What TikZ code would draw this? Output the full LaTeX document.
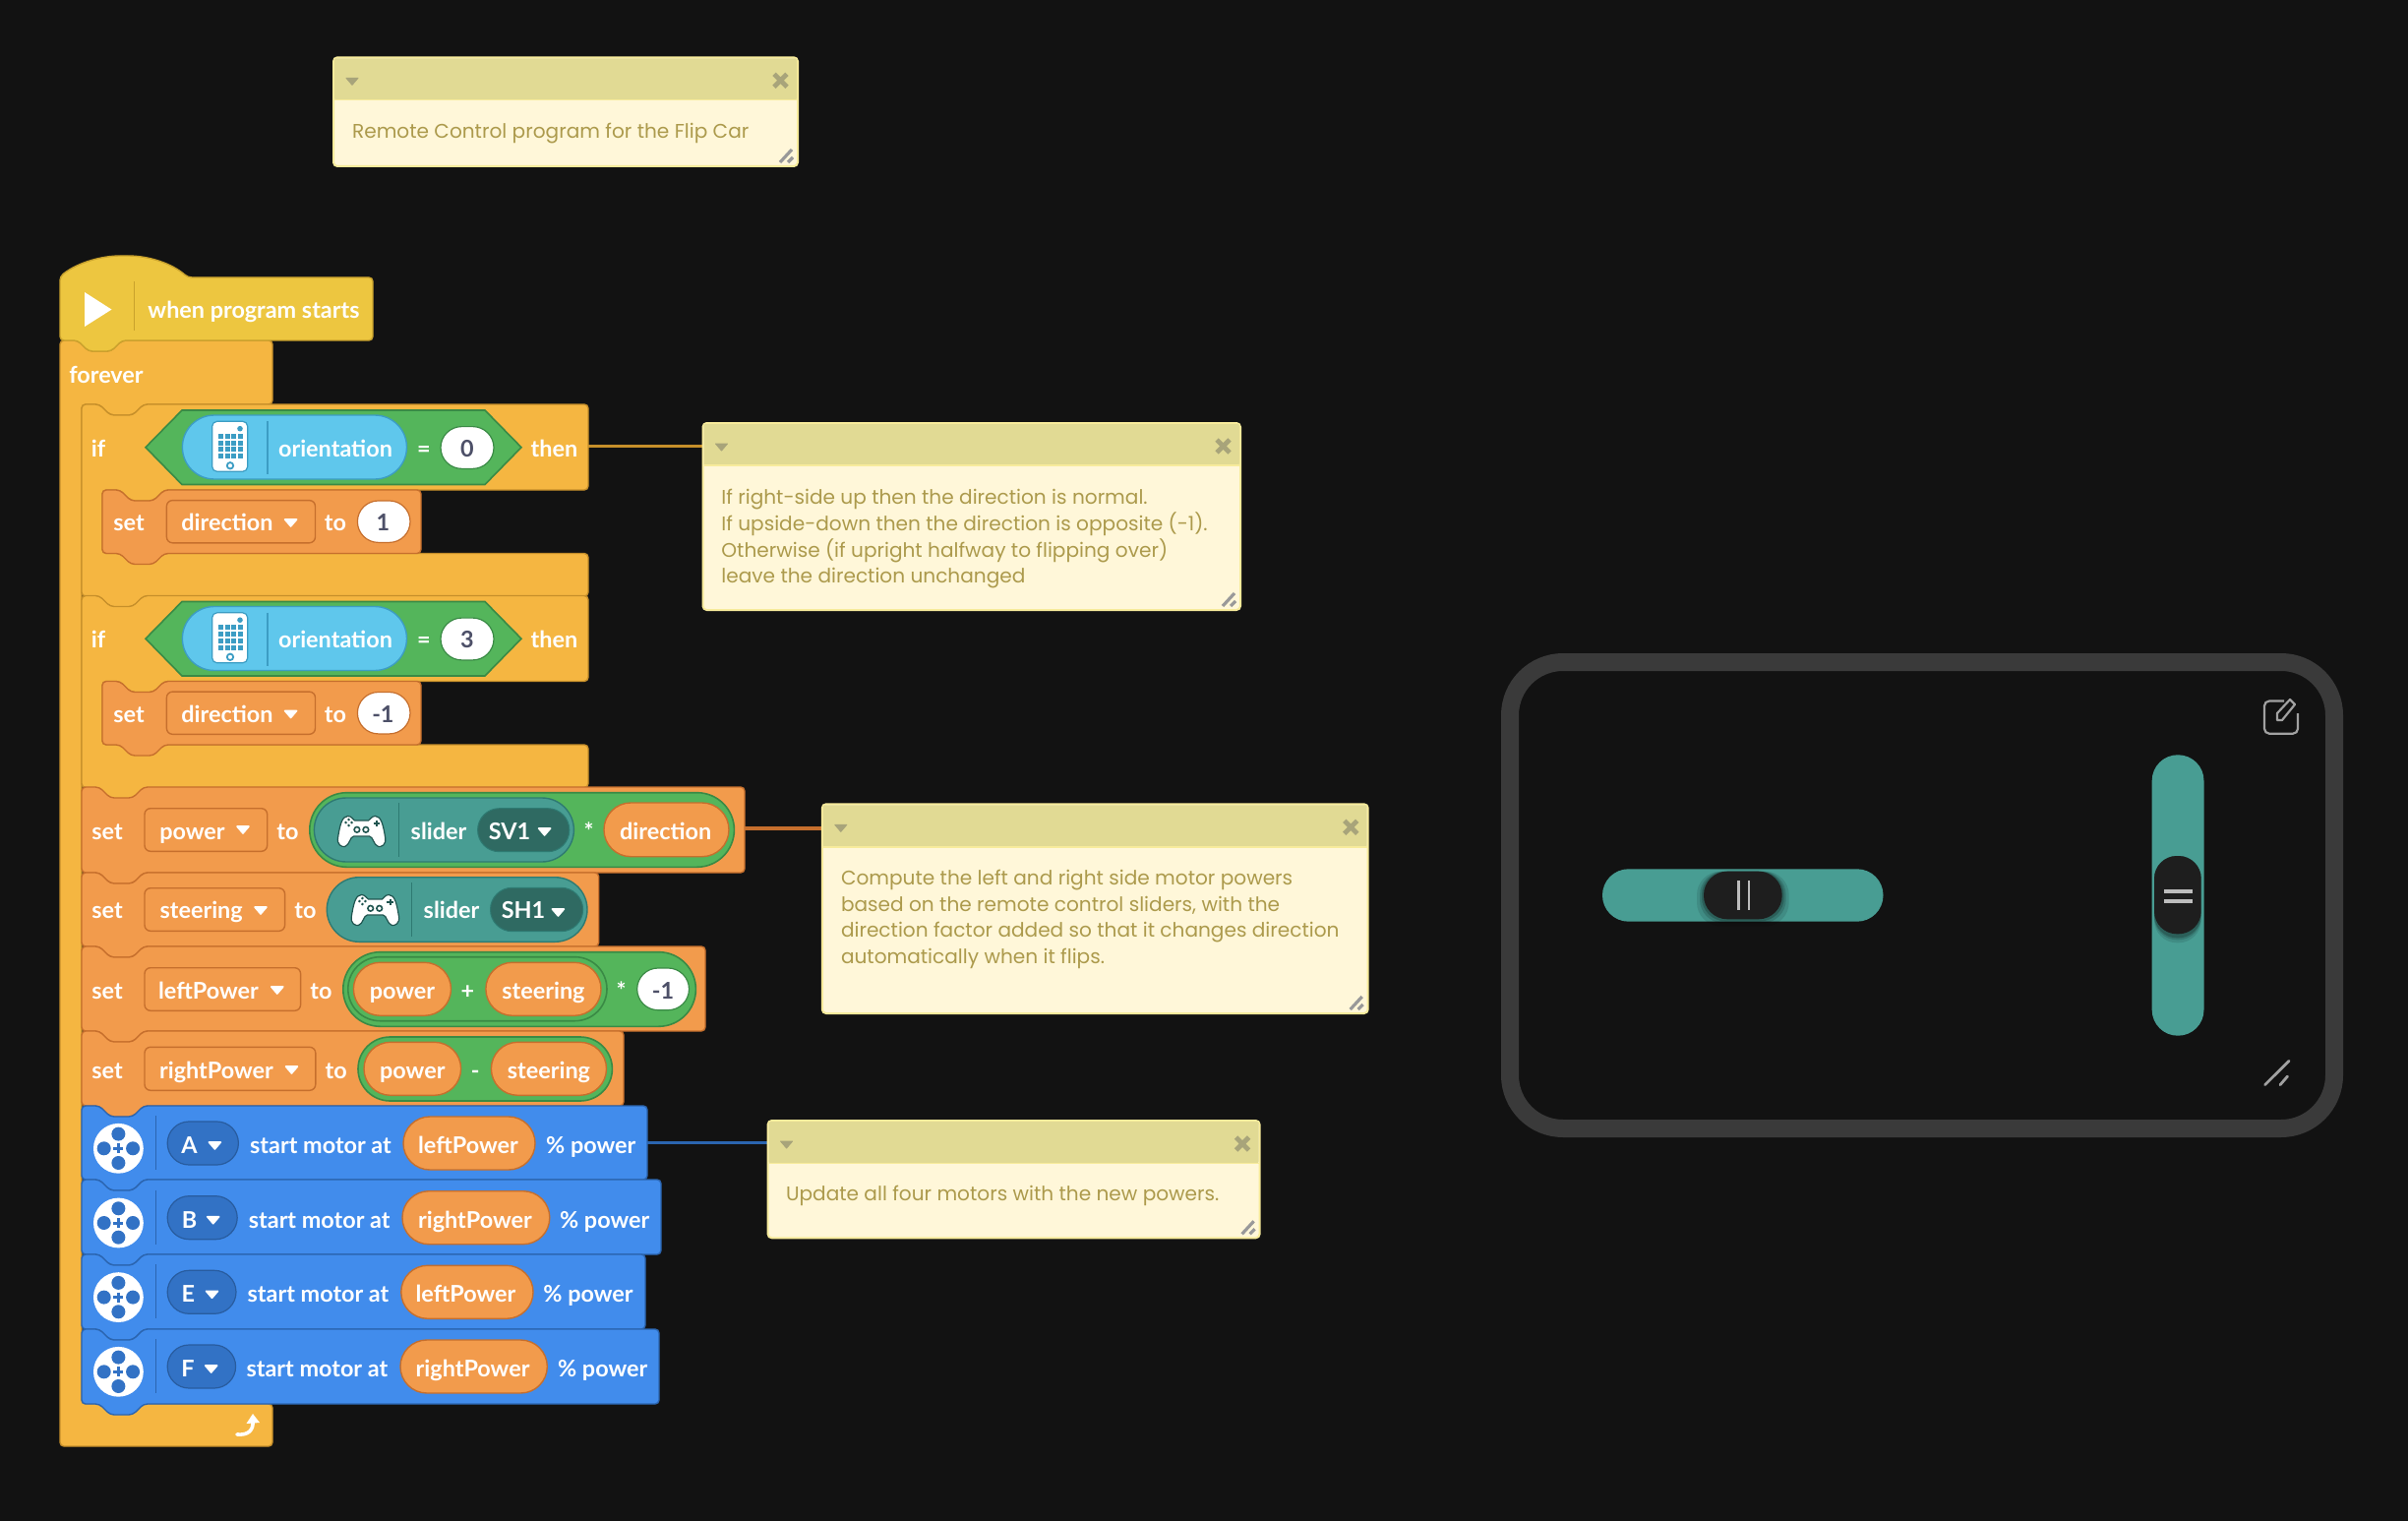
\documentclass[tikz,border=0pt]{standalone}
\usepackage{fontspec}
\setmainfont{Lato}
\newfontfamily\notefont{Poppins}
\definecolor{bgc}{HTML}{121212}
\definecolor{hatc}{HTML}{EDC640}\definecolor{hatb}{HTML}{C9A22D}
\definecolor{ctlc}{HTML}{F5B641}\definecolor{ctlb}{HTML}{C68F2A}
\definecolor{orgc}{HTML}{F29B4C}\definecolor{orgb}{HTML}{C66F2D}
\definecolor{grnc}{HTML}{54B55B}\definecolor{grnb}{HTML}{3A8A45}
\definecolor{skyc}{HTML}{5FC7EC}\definecolor{skyb}{HTML}{3C9DC4}
\definecolor{tealc}{HTML}{489D93}\definecolor{tealb}{HTML}{2E7A72}
\definecolor{dtealc}{HTML}{2F6A62}
\definecolor{bluc}{HTML}{418CEC}\definecolor{blub}{HTML}{2B65B0}
\definecolor{dbluc}{HTML}{3272C5}\definecolor{dblub}{HTML}{285C9F}
\definecolor{noteh}{HTML}{E1DA94}\definecolor{noteb}{HTML}{FFF7D9}
\definecolor{notel}{HTML}{F7EB9B}\definecolor{notet}{HTML}{AC9A4C}
\definecolor{notei}{HTML}{A8A47A}
\definecolor{numc}{HTML}{4D5068}
\definecolor{framec}{HTML}{3A3A3A}\definecolor{knobc}{HTML}{1E1E1E}\definecolor{icoc}{HTML}{BDBDBD}
\tikzset{
  lbl/.style={text=white,font=\fontsize{11.7pt}{14pt}\selectfont\bfseries,inner sep=0pt,text height=1em,text depth=.22em,anchor=center},
  numl/.style={lbl,text=numc},
  notetxt/.style={text=notet,font=\notefont\fontsize{10.05pt}{13pt}\selectfont,inner sep=0pt,anchor=base west},
  hatb/.style={fill=hatc,draw=hatb,line width=.7pt},
  ctl/.style={fill=ctlc,draw=ctlb,line width=.7pt},
  org/.style={fill=orgc,draw=orgb,line width=.7pt},
  mot/.style={fill=bluc,draw=blub,line width=.7pt},
  grn/.style={fill=grnc,draw=grnb,line width=.8pt},
  wht/.style={fill=white,draw=grnb,line width=.6pt},
  whto/.style={fill=white,draw=orgb,line width=.6pt},
  sky/.style={fill=skyc,draw=skyb,line width=.7pt},
  tel/.style={fill=tealc,draw=tealb,line width=.7pt},
  dtl/.style={fill=dtealc,draw=tealb,line width=.5pt},
  dbl/.style={fill=dbluc,draw=dblub,line width=.6pt},
  var/.style={fill=orgc,draw=orgb,line width=.7pt},
  ddn/.style={fill=orgc,draw=orgb,line width=.7pt},
  tri/.style={fill=white,draw=white,line width=.8pt,line join=round},
  sepo/.style={line width=.6pt},
  linkl/.style={line width=1.9pt},
}
% plain block: style, l, t, r, b
\newcommand{\blockp}[5]{\draw[#1,rounded corners=2pt] (#2,#5) -- (#2,#3) -- (#2+18,#3) -- (#2+29,#3+11) -- (#2+52,#3+11) -- (#2+63,#3) -- (#4,#3) -- (#4,#5) -- (#2+63,#5) -- (#2+52,#5+11) -- (#2+29,#5+11) -- (#2+18,#5) -- cycle;}
% C block: style, l,t,headr,headb,innerl,foott,footr,bottom
\newcommand{\cblock}[9]{\draw[#1,rounded corners=2pt] (#2,#9) -- (#2,#3) -- (#2+18,#3) -- (#2+29,#3+11) -- (#2+52,#3+11) -- (#2+63,#3) -- (#4,#3) -- (#4,#5) -- (#6+63,#5) -- (#6+52,#5+11) -- (#6+29,#5+11) -- (#6+18,#5) -- (#6,#5) -- (#6,#7) -- (#8,#7) -- (#8,#9) -- (#2+63,#9) -- (#2+52,#9+11) -- (#2+29,#9+11) -- (#2+18,#9) -- cycle;}
\newcommand{\pill}[5]{\pgfmathsetlengthmacro{\rr}{((#5)-(#3))*0.25pt-0.01pt}\draw[#1,rounded corners=\rr] (#2,#3) rectangle (#4,#5);}
\newcommand{\drop}[3]{\draw[tri] (#1-6,#2-3) -- (#1+6,#2-3) -- (#1,#2+#3-1) -- cycle;}
\newcommand{\hub}[2]{\begin{scope}[shift={(#1,#2)}]
  \draw[fill=white,draw=skyb,line width=.6pt,rounded corners=2.5pt] (-18.3,-26.7) rectangle (17.7,24.3);
  \foreach \c in {-9.8,-3,3.7,10.3}{\foreach \r in {-11.8,-5,1.7,8.5}{\fill[skyb] (\c-2.5,\r-2.5) rectangle (\c+2.5,\r+2.5);}}
  \fill[skyb] (10,-19.3) circle[radius=1.4pt];
  \draw[skyb,line width=.9pt] (0,18.3) circle[radius=1.6pt];
\end{scope}}
\newcommand{\pad}[2]{\begin{scope}[shift={(#1,#2)}]
  \draw[fill=white,draw=tealb!70!black,line width=.6pt] (-14,-15.5) .. controls (-10,-15.5) and (-9,-12) .. (-7,-11) -- (7,-11) .. controls (9,-12) and (10,-15.5) .. (14,-15.5) .. controls (20,-15.5) and (22,-6) .. (24,6) .. controls (25.5,14) and (20,16) .. (17,15.5) .. controls (12,14) and (12,5.5) .. (8,5) -- (-8,5) .. controls (-12,5.5) and (-12,14) .. (-17,15.5) .. controls (-20,16) and (-25.5,14) .. (-24,6) .. controls (-22,-6) and (-20,-15.5) .. (-14,-15.5) -- cycle;
  \draw[tealb!70!black,line width=.8pt] (-4.7,-1.7) circle[radius=1.4pt] (4.3,-1.7) circle[radius=1.4pt];
  \draw[tealb!70!black,line width=.8pt] (15.3,-11.5) -- (15.3,-5) (12,-8.3) -- (18.6,-8.3);
  \fill[tealb!70!black] (-13,-12) circle[radius=.7pt] (-13,-6) circle[radius=.7pt] (-16,-9) circle[radius=.7pt] (-10,-9) circle[radius=.7pt];
\end{scope}}
\newcommand{\motoricon}[2]{\begin{scope}[shift={(#1,#2)}]
  \fill[white] (0,0) circle[radius=12.7pt];
  \foreach \dx/\dy in {0/-14.7,0/14.7,-14.7/0,14.7/0}{\fill[dbluc] (\dx,\dy) circle[radius=3.5pt];}
  \draw[dbluc,line width=1.5pt] (-5,0) -- (5,0) (0,-5) -- (0,5);
\end{scope}}
\newcommand{\motorrow}[8]{%
  \motoricon{120.4}{#1+4.3}
  \draw[blub,sepo] (158.4,#1-29) -- (158.4,#1+26);
  \pill{dbl}{170.2}{#1-23}{#2}{#1+21}
  \node[lbl] at (#3,#1+1.5) {#8};
  \drop{#4}{#1+1}{5}
  \node[lbl] at (#5,#1+1.5) {start motor at};
  \pill{var}{#6}{#1-28}{#7}{#1+26}
}
% note: l t headb r b
\newcommand{\note}[5]{\draw[fill=noteb,draw=notel,line width=1pt,rounded corners=2pt] (#1,#2) rectangle (#4,#5);
  \fill[noteh,rounded corners=1pt] (#1+1,#2+1) rectangle (#4-1,#3);
  \draw[notel,line width=.8pt] (#1+1,#3) -- (#4-1,#3);
  \draw[notei,fill=notei,line width=.5pt,line join=round] (#1+13,#2+21) -- (#1+25,#2+21) -- (#1+19,#2+28) -- cycle;
  \draw[notei,line width=2.4pt] (#4-24,#2+17) -- (#4-11,#2+30) (#4-24,#2+30) -- (#4-11,#2+17);
  \draw[gray!80,line width=1.6pt] (#4-18,#5-4) -- (#4-6,#5-17) (#4-10,#5-4) -- (#4-5,#5-9);
}
\begin{document}
\begin{tikzpicture}[x=0.5pt,y=-0.5pt]
\useasboundingbox (0,0) rectangle (2448,1546);
\fill[bgc] (0,0) rectangle (2448,1546);

% --- connectors
\coordinate (ifEdge) at (598,453.5);
\coordinate (noteTwoEdge) at (714.5,453.5);
\coordinate (powerEdge) at (757,842);
\coordinate (noteThreeEdge) at (836,842);
\coordinate (motorEdge) at (658,1161.5);
\coordinate (noteFourEdge) at (780.6,1161.5);
\draw[linkl,ctlb] (ifEdge) -- (noteTwoEdge);
\draw[linkl,orgb] (powerEdge) -- (noteThreeEdge);
\draw[linkl,blub] (motorEdge) -- (noteFourEdge);

% --- notes
\note{339}{58.3}{101.7}{811}{169}
\node[notetxt] (noteOne) at (357.7,140.5) {Remote Control program for the Flip Car};
\note{714.5}{430}{473}{1261}{620}
\node[notetxt] (noteTwoA) at (733,512) {If right-side up then the direction is normal.};
\node[notetxt] (noteTwoB) at (733,539) {If upside-down then the direction is opposite (-1).};
\node[notetxt] (noteTwoC) at (733,566) {Otherwise (if upright halfway to flipping over)};
\node[notetxt] (noteTwoD) at (733,592.5) {leave the direction unchanged};
\note{835.8}{817.3}{861}{1390.7}{1030}
\node[notetxt] (noteThreeA) at (854.6,899) {Compute the left and right side motor powers};
\node[notetxt] (noteThreeB) at (854.6,926) {based on the remote control sliders, with the};
\node[notetxt] (noteThreeC) at (854.6,952.5) {direction factor added so that it changes direction};
\node[notetxt] (noteThreeD) at (854.6,979.5) {automatically when it flips.};
\note{780.6}{1139}{1182.3}{1280.6}{1258.3}
\node[notetxt] (noteFour) at (798.6,1220) {Update all four motors with the new powers.};

% --- forever
\draw[ctl,rounded corners=2pt] (61,1470) -- (61,346) -- (79,346) -- (90,357) -- (113,357) -- (124,346) -- (277,346) -- (277,411) -- (146,411) -- (135,422) -- (112,422) -- (101,411) -- (83,411) -- (83,1427) -- (277,1427) -- (277,1470) -- cycle;
% --- hat
\draw[hatb,rounded corners=2pt] (61,346) -- (61,281) .. controls (80,266) and (105,260) .. (126,260) .. controls (152,260) and (175,268) .. (191,282) -- (379,282) -- (379,346) -- (124,346) -- (113,357) -- (90,357) -- (79,346) -- cycle;
\draw[hatb,sepo] (136.8,286) -- (136.8,336);
\fill[white] (86,297) -- (113.5,314.6) -- (86,332) -- cycle;
\node[lbl] (hatText) at (258,316) {when program starts};
\node[lbl] (foreverText) at (108,381.5) {forever};
% repeat arrow
\draw[white,line width=1.8pt,line cap=round] (241,1458) .. controls (252,1459) and (258,1454) .. (257,1444);
\fill[white] (250.5,1447) -- (257,1437) -- (264,1446) -- cycle;

% --- if blocks
\foreach \o/\val/\setv in {0/0/1,194.5/3/-1}{
  \begin{scope}[yshift=-\o*0.5pt]
  \cblock{ctl}{83}{411}{598}{498}{104}{562.5}{598}{606}
  \node[lbl] at (100,456.5) {if};
  \draw[grn] (148,454.7) -- (185,417) -- (493,417) -- (530,454.7) -- (493,492.5) -- (185,492.5) -- cycle;
  \pill{sky}{185.4}{422}{413.5}{487}
  \hub{234}{455}
  \draw[skyb,sepo] (272,428) -- (272,482);
  \node[lbl] at (341,456.5) {orientation};
  \node[lbl] at (431,456.5) {=};
  \pill{wht}{448}{433.6}{502}{476.4}
  \node[numl] at (475,456.5) {\val};
  \node[lbl] at (563.5,456.5) {then};
  \blockp{org}{104}{498}{428}{562.5}
  \node[lbl] at (131,532) {set};
  \draw[ddn,rounded corners=3pt] (169.4,508.6) rectangle (320.5,551.8);
  \node[lbl] at (231,532) {direction};
  \drop{295.6}{531}{5}
  \node[lbl] at (341,532) {to};
  \pill{whto}{363.4}{509}{417}{551.4}
  \node[numl] at (389.4,532) {\setv};
  \end{scope}
}

% --- set power
\blockp{org}{83}{800}{757}{887}
\node[lbl] at (109,845.5) {set};
\draw[ddn,rounded corners=3pt] (147,821.7) rectangle (271.7,865.3);
\node[lbl] at (195.5,845.5) {power};
\drop{247}{843}{5}
\node[lbl] at (292.5,845.5) {to};
\pill{grn}{314.8}{805.7}{746.4}{881.3}
\pill{tel}{319.4}{811}{583.4}{876}
\pad{367.6}{845}
\draw[tealb,sepo] (405.7,816) -- (405.7,871);
\node[lbl] at (446,845.5) {slider};
\pill{dtl}{485.6}{821.7}{578.8}{865.7}
\node[lbl] at (518,845.5) {SV1};
\drop{553.6}{845}{5}
\node[lbl] at (598.6,845.5) {*};
\pill{var}{614}{816}{741}{870.7}
\node[lbl] at (676.7,845.5) {direction};

% --- set steering
\blockp{org}{83}{887}{608.7}{962}
\node[lbl] at (109,926) {set};
\draw[ddn,rounded corners=3pt] (147,902.7) rectangle (289.6,946.3);
\node[lbl] at (204.7,926) {steering};
\drop{265}{925}{5}
\node[lbl] at (310.5,926) {to};
\pill{tel}{332.3}{891.7}{597}{957.3}
\pad{381.4}{925}
\draw[tealb,sepo] (418.6,897) -- (418.6,952);
\node[lbl] at (459,926) {slider};
\pill{dtl}{498.5}{902.3}{592.6}{946.7}
\node[lbl] at (532,926) {SH1};
\drop{567.4}{927}{5}

% --- set leftPower
\blockp{org}{83}{962}{717}{1048}
\node[lbl] at (109,1007.3) {set};
\draw[ddn,rounded corners=3pt] (147,983.7) rectangle (305.6,1027.3);
\node[lbl] at (212,1007.3) {leftPower};
\drop{281.8}{1006}{5}
\node[lbl] at (326.5,1007.3) {to};
\pill{grn}{348.8}{967.7}{707.4}{1043.3}
\pill{grn}{353.8}{972.7}{617}{1037.7}
\pill{var}{359.4}{978.3}{458.5}{1032.3}
\node[lbl] at (409,1007.3) {power};
\node[lbl] at (475.5,1007.3) {+};
\pill{var}{493.9}{978.3}{611}{1032.3}
\node[lbl] at (552.5,1007.3) {steering};
\node[lbl] at (631.6,1007.3) {*};
\pill{wht}{647.7}{984}{700.5}{1026.7}
\node[numl] at (674,1007.3) {-1};

% --- set rightPower
\blockp{org}{83}{1048}{634}{1124}
\node[lbl] at (109,1088.3) {set};
\draw[ddn,rounded corners=3pt] (147,1064.3) rectangle (320.8,1108.3);
\node[lbl] at (220,1088.3) {rightPower};
\drop{296.5}{1087}{5}
\node[lbl] at (341.7,1088.3) {to};
\pill{grn}{364}{1054}{622.4}{1119}
\pill{var}{370}{1059.3}{468.6}{1113.3}
\node[lbl] at (419.3,1088.3) {power};
\node[lbl] at (483.3,1088.3) {-};
\pill{var}{499.4}{1059.3}{616.5}{1113.3}
\node[lbl] at (558,1088.3) {steering};

% --- motors
\blockp{mot}{83}{1124}{658}{1199}
\motorrow{1163}{242.4}{192.6}{218.4}{326}{410}{544}{A}
\node[lbl] at (476,1164.5) {leftPower};
\node[lbl] at (600.8,1164.5) {\% power};
\blockp{mot}{83}{1199}{672}{1275}
\motorrow{1238.7}{241.2}{192.6}{216.7}{324.7}{409}{558.8}{B}
\node[lbl] at (483,1240.2) {rightPower};
\node[lbl] at (614.7,1240.2) {\% power};
\blockp{mot}{83}{1275}{656}{1351}
\motorrow{1314.3}{240}{191.4}{215.5}{323.5}{407.8}{542}{E}
\node[lbl] at (473.5,1315.8) {leftPower};
\node[lbl] at (598,1315.8) {\% power};
\blockp{mot}{83}{1351}{670}{1427}
\motorrow{1390}{239.6}{191}{214.7}{322.4}{407}{556.3}{F}
\node[lbl] at (480.6,1391.5) {rightPower};
\node[lbl] at (612.7,1391.5) {\% power};

% --- phone panel
\draw[framec,line width=9pt,rounded corners=27pt] (1535,673) rectangle (2373,1147);
\fill[tealc,rounded corners=13.3pt] (1629,883.3) rectangle (1914.5,936.7);
\fill[tealc,rounded corners=13.1pt] (2187.7,767.3) rectangle (2240.5,1052.7);
\foreach \sh/\op in {7/.10,4/.15,2/.2}{
  \fill[black,opacity=\op,rounded corners=12pt] (1732-\sh,885.7) rectangle (1811.7+\sh,934.3+\sh);
  \fill[black,opacity=\op,rounded corners=11.5pt] (2190,870) rectangle (2237.7,949.3+\sh+2);
}
\fill[knobc,rounded corners=12pt] (1732,885.7) rectangle (1811.7,934.3);
\fill[knobc,rounded corners=11.5pt] (2190,870) rectangle (2237.7,949.3);
\draw[icoc,line width=1.4pt] (1767.5,895) -- (1767.5,925) (1778,895) -- (1778,925);
\draw[icoc,line width=2pt] (2199.8,905.7) -- (2229,905.7) (2199.8,915.7) -- (2229,915.7);
% edit icon
\draw[icoc!85!black,line width=1.1pt,rounded corners=2.5pt] (2322,712.5) -- (2302,712.5) -- (2302,745.7) -- (2336,745.7) -- (2336,725);
\draw[icoc!85!black,line width=1.1pt,line join=round] (2315,732) -- (2315,725) -- (2328,711) -- (2333,716) -- (2320,732) -- cycle;
% resize icon
\draw[icoc!85!black,line width=1.4pt,line cap=round] (2302.5,1102.7) -- (2327,1078.3) (2318,1102.7) -- (2325.5,1094);
\end{tikzpicture}
\end{document}
